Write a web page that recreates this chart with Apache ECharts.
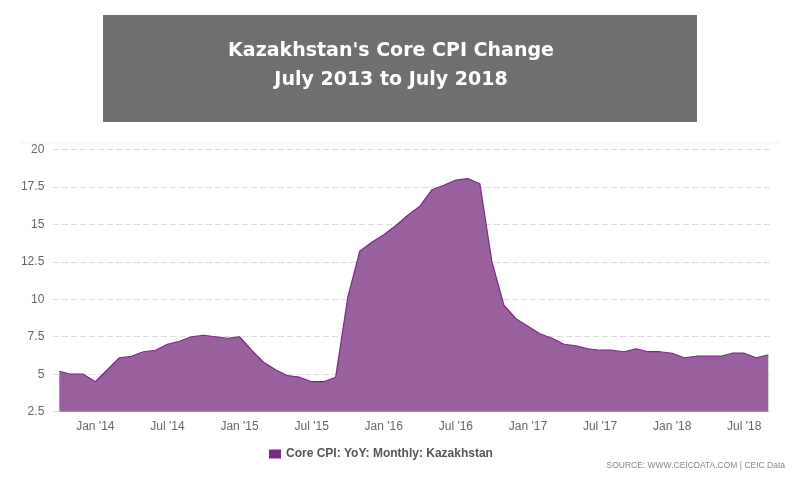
<!DOCTYPE html>
<html>
<head>
<meta charset="utf-8">
<script src="https://cdn.jsdelivr.net/npm/echarts@6/dist/echarts.min.js"></script>
<style>html,body{margin:0;padding:0;background:#fff;}#chart{width:800px;height:500px;}</style>
</head>
<body>
<div id="chart"></div>
<script>
const months = ["Oct '13","Nov '13","Dec '13",
  "Jan '14","Feb '14","Mar '14","Apr '14","May '14","Jun '14","Jul '14","Aug '14","Sep '14","Oct '14","Nov '14","Dec '14",
  "Jan '15","Feb '15","Mar '15","Apr '15","May '15","Jun '15","Jul '15","Aug '15","Sep '15","Oct '15","Nov '15","Dec '15",
  "Jan '16","Feb '16","Mar '16","Apr '16","May '16","Jun '16","Jul '16","Aug '16","Sep '16","Oct '16","Nov '16","Dec '16",
  "Jan '17","Feb '17","Mar '17","Apr '17","May '17","Jun '17","Jul '17","Aug '17","Sep '17","Oct '17","Nov '17","Dec '17",
  "Jan '18","Feb '18","Mar '18","Apr '18","May '18","Jun '18","Jul '18","Aug '18","Sep '18"];
const coreCpi = [5.2,5.0,5.0,
  4.5,5.3,6.1,6.2,6.5,6.6,7.0,7.2,7.5,7.6,7.5,7.4,
  7.5,6.6,5.8,5.3,4.9,4.8,4.5,4.5,4.8,10.1,13.2,13.8,
  14.3,14.9,15.6,16.2,17.3,17.6,17.95,18.05,17.7,12.5,9.6,8.7,
  8.2,7.7,7.4,7.0,6.9,6.7,6.6,6.6,6.5,6.7,6.5,6.5,
  6.4,6.1,6.2,6.2,6.2,6.4,6.4,6.1,6.3];
const yMin = 2.5, yMax = 20, yStep = 2.5;
const seriesName = "Core CPI: YoY: Monthly: Kazakhstan";

const chart = echarts.init(document.getElementById('chart'));
chart.setOption({
  animation: false,
  backgroundColor: '#ffffff',
  title: {
    text: "Kazakhstan's Core CPI Change\nJuly 2013 to July 2018",
    left: 386,
    textAlign: 'center',
    top: 32,
    textStyle: {
      color: '#ffffff',
      fontFamily: 'DejaVu Sans',
      fontWeight: 'bold',
      fontSize: 19,
      lineHeight: 29
    }
  },
  graphic: [
    { type: 'rect', z: -1, shape: { x: 103, y: 15, width: 594, height: 107 }, style: { fill: '#6f6f6f' } },
    { type: 'rect', z: -1, shape: { x: 20, y: 142.5, width: 760, height: 1 }, style: { fill: '#f2f2f2' } },
    { type: 'text', right: 15, top: 461, style: { text: 'SOURCE: WWW.CEICDATA.COM | CEIC Data', fill: '#888888', font: '8.5px "Liberation Sans"' } }
  ],
  legend: {
    data: [seriesName],
    left: 264,
    top: 443,
    icon: 'rect',
    itemWidth: 12,
    itemHeight: 9,
    itemGap: 5,
    textStyle: { color: '#555555', fontWeight: 'bold', fontSize: 12, fontFamily: 'Liberation Sans' }
  },
  grid: [
    { left: 59.3, right: 31.7, top: 149.3, bottom: 88.3 },
    { left: 53, right: 27, top: 149.3, bottom: 88.3 }
  ],
  xAxis: [{
    type: 'category',
    gridIndex: 0,
    data: months,
    boundaryGap: false,
    axisLine: { show: false },
    axisTick: { show: false },
    axisLabel: {
      color: '#666666',
      fontSize: 12,
      fontFamily: 'Liberation Sans',
      margin: 9,
      interval: function (i, v) { return v.indexOf('Jan') === 0 || v.indexOf('Jul') === 0; }
    },
    splitLine: { show: false }
  }, {
    type: 'category',
    gridIndex: 1,
    data: months,
    show: false
  }],
  yAxis: [{
    type: 'value',
    gridIndex: 0,
    min: yMin, max: yMax, interval: yStep,
    axisLine: { show: false },
    axisTick: { show: false },
    axisLabel: { color: '#666666', fontSize: 12, fontFamily: 'Liberation Sans', margin: 15 },
    splitLine: { show: false }
  }, {
    type: 'value',
    gridIndex: 1,
    min: yMin, max: yMax, interval: yStep,
    axisLine: { show: false },
    axisTick: { show: false },
    axisLabel: { show: false },
    splitLine: { lineStyle: { color: '#dddddd', type: [6, 3], width: 1 } }
  }],
  series: [{
    name: seriesName,
    type: 'line',
    xAxisIndex: 0,
    yAxisIndex: 0,
    data: coreCpi,
    symbol: 'none',
    color: '#7a2b83',
    lineStyle: { color: '#7a2b83', width: 1.2 },
    areaStyle: { color: '#98609e', opacity: 1, origin: 'start' },
    z: 3
  }]
});
</script>
</body>
</html>
